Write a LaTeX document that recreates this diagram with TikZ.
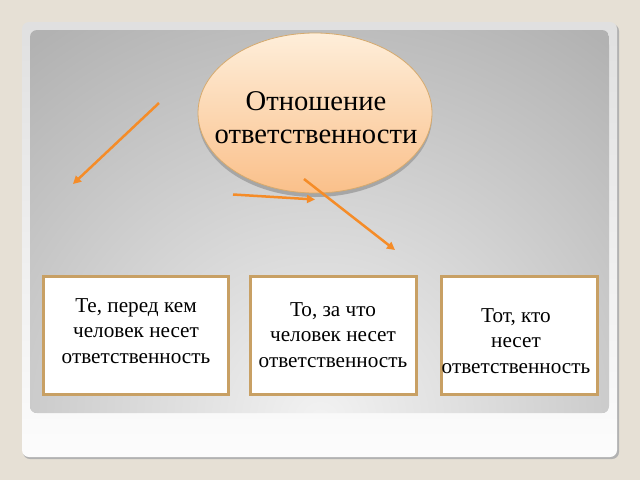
\documentclass[tikz,border=0pt]{standalone}
\usepackage{fontspec}
\setmainfont{Liberation Serif}
\usetikzlibrary{arrows.meta,shapes.geometric}
\definecolor{bgbeige}{RGB}{230,224,213}
\definecolor{slidetop}{RGB}{224,224,224}
\definecolor{slidebot}{RGB}{252,252,252}
\definecolor{panelin}{RGB}{242,242,242}
\definecolor{panelout}{RGB}{178,178,178}
\definecolor{tanborder}{RGB}{200,160,100}
\definecolor{elltop}{RGB}{254,238,218}
\definecolor{ellbot}{RGB}{250,192,138}
\definecolor{ellborder}{RGB}{214,170,110}
\definecolor{arroworange}{RGB}{245,140,40}
\tikzset{
  boxnode/.style={draw=tanborder, line width=3pt, fill=white, minimum width=185pt, minimum height=118pt, inner sep=0pt},
  boxtext/.style={font=\fontsize{21.2}{25.3}\selectfont, align=center, text=black, inner sep=0pt},
  conn/.style={draw=arroworange, line width=2.5pt, -{Triangle[length=8pt,width=8pt]}},
}
\begin{document}
\begin{tikzpicture}[x=1pt,y=-1pt]
\useasboundingbox (0,0) rectangle (640,480);
\fill[bgbeige] (0,0) rectangle (640,480);
% slide shadow and slide
\fill[gray!60, rounded corners=7pt] (23,24) rectangle (619,459);
\shade[top color=slidetop, bottom color=slidebot, rounded corners=7pt] (22,22) rectangle (617,457);
% gray panel
\begin{scope}
  \clip[rounded corners=7pt] (30,30) rectangle (609,413);
  \fill[panelout] (30,30) rectangle (609,413);
  \shade[inner color=panelin, outer color=panelout] (320,420) ellipse (480 and 470);
\end{scope}
% ellipse with shadow
\fill[gray!70] (315,117) ellipse (117 and 80);
\node[ellipse, minimum width=234pt, minimum height=160pt, draw=ellborder, line width=0.8pt, top color=elltop, bottom color=ellbot, inner sep=0pt] (main) at (315,113) {};
\node[font=\fontsize{28.6}{33}\selectfont, align=center, inner sep=0pt] (maintext) at (316,117.5) {Отношение\\ответственности};
% boxes
\node[boxnode] (b1) at (136,335.5) {};
\node[boxnode, minimum width=166pt] (b2) at (333,335.5) {};
\node[boxnode, minimum width=156pt] (b3) at (519,335.5) {};
\node[boxtext] (t1) at (136,331) {Те, перед кем\\человек несет\\ответственность};
\node[boxtext] (t2) at (333,335) {То, за что\\человек несет\\ответственность};
\node[boxtext] (t3) at (516,341) {Тот, кто\\несет\\ответственность};
% arrows
\coordinate (a1s) at (159,103);
\coordinate (a1e) at (73,184);
\coordinate (a2s) at (233,194.5);
\coordinate (a2e) at (315,199.5);
\coordinate (a3s) at (304,179);
\coordinate (a3e) at (395,250);
\draw[conn] (a1s) -- (a1e);
\draw[conn] (a2s) -- (a2e);
\draw[conn] (a3s) -- (a3e);
\end{tikzpicture}
\end{document}
